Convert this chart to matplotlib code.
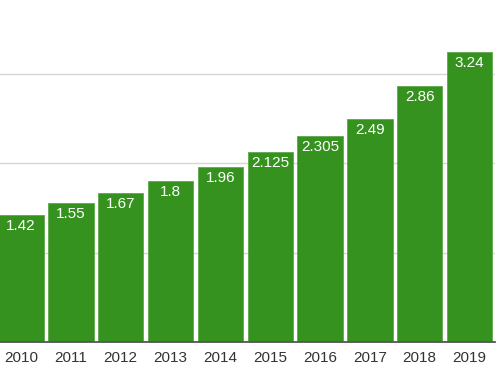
import matplotlib
matplotlib.use('Agg')
import matplotlib.pyplot as plt

years = ['2010', '2011', '2012', '2013', '2014', '2015', '2016', '2017', '2018', '2019']
values = [1.42, 1.55, 1.67, 1.8, 1.96, 2.125, 2.305, 2.49, 2.86, 3.24]
value_labels = ['1.42', '1.55', '1.67', '1.8', '1.96', '2.125', '2.305', '2.49', '2.86', '3.24']

plt.rcParams['font.family'] = ['Liberation Sans', 'DejaVu Sans']

fig = plt.figure(figsize=(5.02, 3.71), dpi=100)
ax = fig.add_axes([0, 29 / 371, 495 / 502, 342 / 371])

x = list(range(len(years)))
bars = ax.bar(x, values, width=0.91, color='#36921F', edgecolor='#5DA84A',
              linewidth=0.6, zorder=2)

for b, lab in zip(bars, value_labels):
    ax.annotate(lab, (b.get_x() + b.get_width() / 2, b.get_height()),
                xytext=(0, -7.8), textcoords='offset points',
                ha='center', va='center', color='white', fontsize=11, zorder=3)

ax.set_xlim(-0.421, 9.51)
ax.set_ylim(0, 3.826)
ax.set_yticks([1, 2, 3])
ax.yaxis.grid(True, color='#d6d6d6', linewidth=1, zorder=0)
ax.set_xticks(x)
ax.set_xticklabels(years, fontsize=11, color='#333333')
ax.tick_params(axis='x', length=0, pad=6.5)
ax.tick_params(axis='y', length=0, labelleft=False)

for s in ['top', 'left', 'right']:
    ax.spines[s].set_visible(False)
ax.spines['bottom'].set_color('#555555')
ax.spines['bottom'].set_linewidth(1.3)
ax.spines['bottom'].set_zorder(4)

fig.savefig('out.png', dpi=100)
